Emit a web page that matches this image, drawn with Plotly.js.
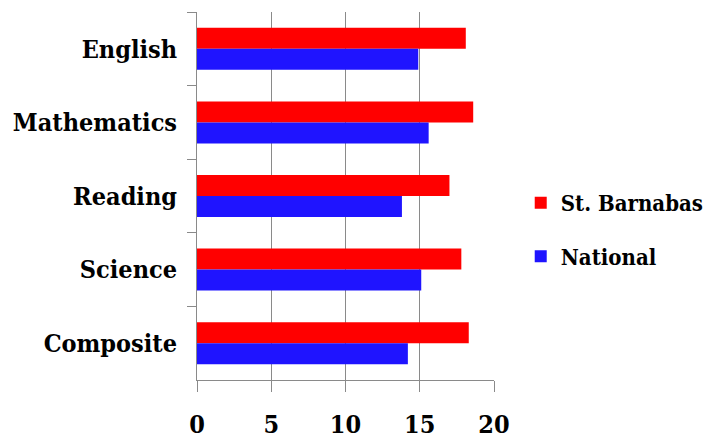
<!DOCTYPE html>
<html>
<head>
<meta charset="utf-8">
<script src="https://cdn.plot.ly/plotly-3.0.1.min.js"></script>
<style>html,body{margin:0;padding:0;background:#fff;}#chart{width:712px;height:441px;}</style>
</head>
<body>
<div id="chart"></div>
<script>
var categories = ["English", "Mathematics", "Reading", "Science", "Composite"];
var stBarnabas = [18.1, 18.6, 17.0, 17.8, 18.3];
var national = [14.9, 15.6, 13.8, 15.1, 14.2];
var xTicks = [0, 5, 10, 15, 20];

var FONT = "'DejaVu Serif Condensed', 'DejaVu Serif', serif";

var traces = [
  {type: "bar", orientation: "h", name: "St. Barnabas", y: categories, x: stBarnabas,
   marker: {color: "#FF0000"}, legendgroup: "a"},
  {type: "bar", orientation: "h", name: "National", y: categories, x: national,
   marker: {color: "#1F14FF"}, legendgroup: "b"}
];

var layout = {
  width: 712, height: 441,
  margin: {l: 197, r: 218, t: 12, b: 61, autoexpand: false},
  paper_bgcolor: "#fff", plot_bgcolor: "#fff",
  barmode: "group", bargap: 0.43, bargroupgap: 0,
  font: {family: FONT, color: "#000", size: 22},
  showlegend: true,
  legend: {x: 1.09, y: 0.408, xanchor: "left", yanchor: "middle",
           traceorder: "grouped", tracegroupgap: 22,
           font: {family: FONT, size: 22, color: "#000", weight: "bold"}},
  xaxis: {range: [0, 20], tickvals: xTicks, ticktext: xTicks.map(String),
          showgrid: true, gridcolor: "#8a8a8a", gridwidth: 1,
          showline: true, linecolor: "#8a8a8a", linewidth: 1,
          ticks: "outside", ticklen: 11, tickcolor: "#8a8a8a",
          ticklabelstandoff: 11, zeroline: false,
          tickfont: {family: FONT, size: 25, color: "#000", weight: "bold"}},
  yaxis: {type: "category", autorange: "reversed",
          showline: true, linecolor: "#8a8a8a", linewidth: 1,
          ticks: "outside", ticklen: 9, tickcolor: "#8a8a8a", tickson: "boundaries",
          showgrid: false, ticklabelstandoff: 14,
          tickfont: {family: FONT, size: 25, color: "#000", weight: "bold"}}
};

Plotly.newPlot("chart", traces, layout, {displayModeBar: false, staticPlot: true});
</script>
</body>
</html>
